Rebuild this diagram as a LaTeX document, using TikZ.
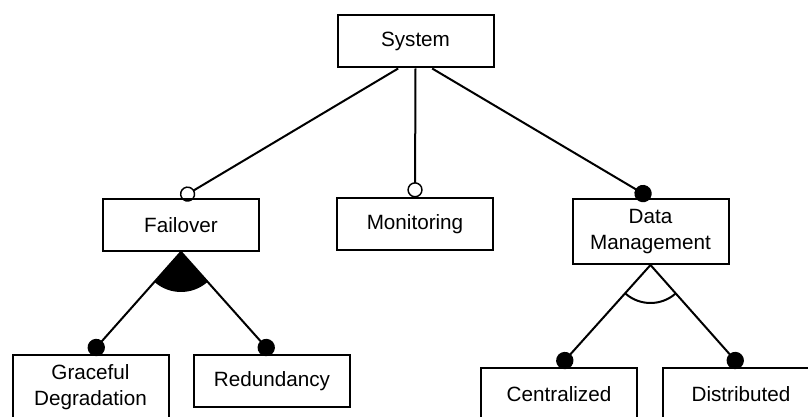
\documentclass[tikz,border=0pt]{standalone}
\usepackage{fontspec}
\setmainfont{Liberation Sans}
\usetikzlibrary{arrows.meta}

\begin{document}
\begin{tikzpicture}[
  x=0.75pt,y=0.75pt,
  line width=1.5pt,
  feature/.style={draw,rectangle,inner sep=0pt,minimum width=117pt,
    minimum height=39pt,align=center,font=\fontsize{15.5}{19.5}\selectfont},
  tallfeature/.style={feature,minimum height=48.75pt},
  optional/.style={-{Circle[open,length=11.5pt,line width=1.1pt]}},
  mandatory/.style={-{Circle[length=13pt]}}
]
  \useasboundingbox (0,0) rectangle (808,-417);
  \clip (0,0) rectangle (808,-417);

  % root and first level
  \node[feature] (sys) at (415.5,-41.5) {System};
  \node[feature] (fail) at (181,-225) {Failover};
  \node[feature] (mon) at (415,-224.5) {Monitoring};
  \node[tallfeature] (dm) at (650.5,-231.5) {Data\\Management};

  % second level
  \node[tallfeature] (grace) at (90.5,-387.5) {Graceful\\Degradation};
  \node[feature] (red) at (272,-381) {Redundancy};
  \node[feature] (cent) at (559,-394) {Centralized};
  \node[feature] (dist) at (741,-394) {Distributed};

  \draw[optional] ([xshift=-13pt]sys.south) -- (fail.north);
  \draw[optional] (sys.south) -- (mon.north);
  \draw[mandatory] ([xshift=12.5pt]sys.south) -- (dm.north);

  % or-group below Failover
  \fill (fail.south) -- ++(229:30pt) arc[start angle=229,end angle=311,radius=30pt] -- cycle;
  \draw[mandatory] (fail.south) -- (grace.north);
  \draw[mandatory] (fail.south) -- (red.north);

  % alternative group below Data Management
  \draw (dm.south) ++(229:28.5pt) arc[start angle=229,end angle=311,radius=28.5pt];
  \draw[mandatory] (dm.south) -- (cent.north);
  \draw[mandatory] (dm.south) -- (dist.north);
\end{tikzpicture}
\end{document}
